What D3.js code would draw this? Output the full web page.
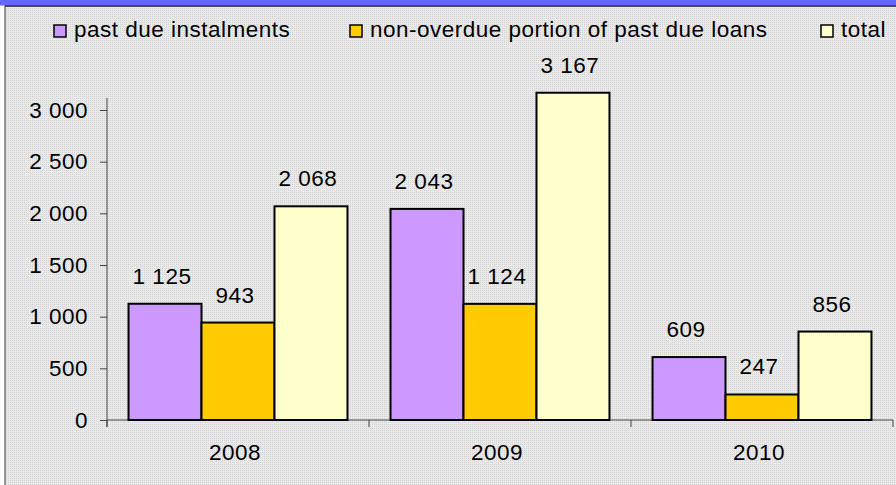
<!DOCTYPE html>
<html>
<head>
<meta charset="utf-8">
<script src="https://cdn.jsdelivr.net/npm/d3@7"></script>
<style>
  body { margin: 0; background: #fff; }
  svg { display: block; font-family: "Liberation Sans", Arial, sans-serif; }
  text { letter-spacing: 0.5px; }
</style>
</head>
<body>
<svg width="896" height="485"></svg>
<script>
const years = ["2008", "2009", "2010"]
const series = ["past due instalments", "non-overdue portion of past due loans", "total"]
const pastDue = [1125, 2043, 609]
const nonOverdue = [943, 1124, 247]
const total = [2068, 3167, 856]
const yTicks = [0, 500, 1000, 1500, 2000, 2500, 3000]
const colors = ["#cc99ff", "#ffcc00", "#ffffcc"]

const fmt = v => d3.format(",")(v).replace(/,/g, " ")
const fs = 22.5

const svg = d3.select("svg")

// dotted background
const pat = svg.append("defs").append("pattern")
    .attr("id", "dots")
    .attr("width", 2).attr("height", 2)
    .attr("patternUnits", "userSpaceOnUse")
pat.append("rect").attr("width", 2).attr("height", 2).attr("fill", "#e9e9e9")
pat.append("rect").attr("width", 1).attr("height", 1).attr("fill", "#d4d4d4")

svg.append("rect")
    .attr("x", 5).attr("y", 6)
    .attr("width", 900).attr("height", 490)
    .attr("fill", "url(#dots)")
    .attr("stroke", "#777")
    .attr("stroke-width", 1.5)

svg.append("rect")
    .attr("x", 0).attr("y", 0)
    .attr("width", 896).attr("height", 5.5)
    .attr("fill", "#6666ff")
svg.append("line")
    .attr("x1", 5).attr("x2", 896)
    .attr("y1", 6).attr("y2", 6)
    .attr("stroke", "#333").attr("stroke-width", 1.5)

const yScale = d3.scaleLinear().domain([0, 3000]).range([420, 110])
const xScale = d3.scaleBand().domain(years).range([107, 893]).padding(0)
const inner = d3.scaleBand().domain(series).range([0, xScale.bandwidth()])
    .paddingInner(0).paddingOuter(0.295)

// axes
const yAxis = d3.axisLeft(yScale).tickValues(yTicks).tickSize(7).tickFormat(fmt)
const yG = svg.append("g")
    .attr("transform", "translate(107,0)")
    .call(yAxis)
yG.selectAll("text").attr("font-size", fs).attr("fill", "#000").attr("x", -19)
yG.selectAll("line, path").attr("stroke", "#444")
yG.select("path.domain").attr("d", "M0,98V427")

const xG = svg.append("g")
    .attr("transform", "translate(0,420)")
xG.append("line")
    .attr("x1", xScale.range()[0]).attr("x2", xScale.range()[1])
    .attr("stroke", "#444")
xG.selectAll("line.tick")
    .data(years.map(y => xScale(y)).concat([xScale.range()[1]]))
    .enter()
    .append("line")
    .attr("class", "tick")
    .attr("x1", d => d).attr("x2", d => d)
    .attr("y1", 0).attr("y2", 7)
    .attr("stroke", "#444")
xG.selectAll("text")
    .data(years)
    .enter()
    .append("text")
    .attr("x", d => xScale(d) + xScale.bandwidth() / 2 - 3)
    .attr("y", 40)
    .attr("text-anchor", "middle")
    .attr("font-size", fs)
    .text(d => d)

// bars
const table = years.map((y, i) => ({
    year: y,
    vals: [pastDue[i], nonOverdue[i], total[i]]
}))

const groups = svg.append("g")
    .selectAll("g.year")
    .data(table)
    .enter()
    .append("g")
    .attr("class", "year")
    .attr("transform", d => `translate(${xScale(d.year)},0)`)

groups.selectAll("rect")
    .data(d => d.vals.map((v, j) => ({ s: series[j], v: v, c: colors[j] })))
    .enter()
    .append("rect")
    .attr("x", d => inner(d.s))
    .attr("width", inner.bandwidth())
    .attr("y", d => yScale(d.v))
    .attr("height", d => yScale(0) - yScale(d.v))
    .attr("fill", d => d.c)
    .attr("stroke", "#000")
    .attr("stroke-width", 2)

groups.selectAll("text")
    .data(d => d.vals.map((v, j) => ({ s: series[j], v: v })))
    .enter()
    .append("text")
    .attr("x", d => inner(d.s) + inner.bandwidth() / 2 - 3)
    .attr("y", d => yScale(d.v) - 20)
    .attr("text-anchor", "middle")
    .attr("font-size", fs)
    .text(d => fmt(d.v))

// legend
const legendX = [54, 350, 821]
const leg = svg.append("g")
    .selectAll("g.leg")
    .data(series)
    .enter()
    .append("g")
    .attr("class", "leg")
    .attr("transform", (d, i) => `translate(${legendX[i]},25)`)
leg.append("rect")
    .attr("width", 12).attr("height", 12)
    .attr("fill", (d, i) => colors[i])
    .attr("stroke", "#000").attr("stroke-width", 1.5)
leg.append("text")
    .attr("x", 20).attr("y", 12)
    .attr("font-size", fs)
    .text(d => d)
</script>
</body>
</html>
